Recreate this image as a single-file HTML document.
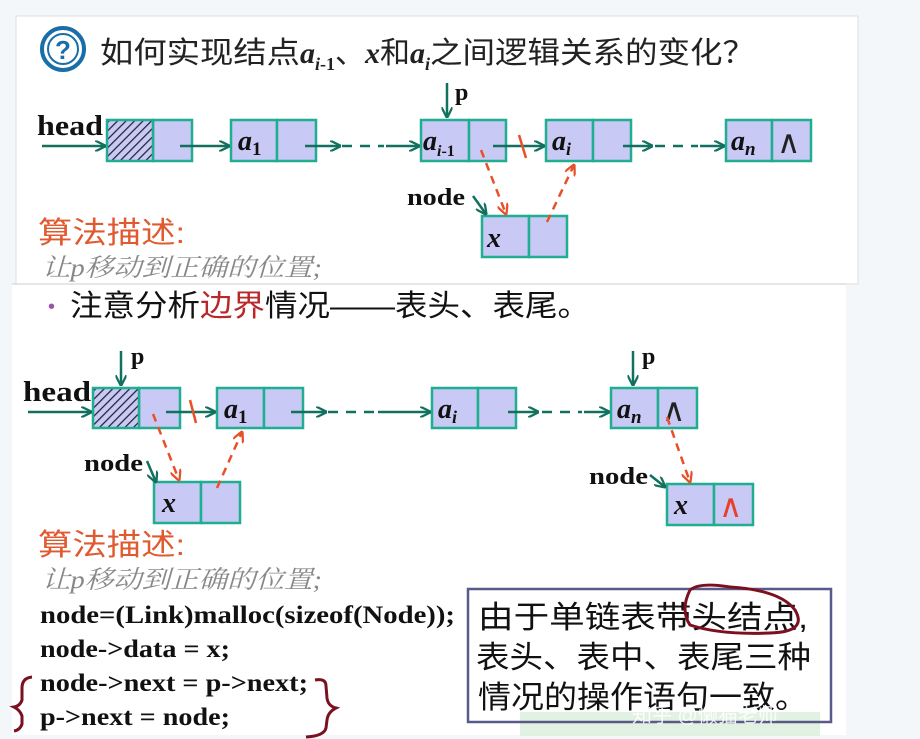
<!DOCTYPE html>
<html><head><meta charset="utf-8"><style>
body{margin:0;background:#f3f7fa;width:920px;height:739px;overflow:hidden}
svg{display:block}
.s{font-family:"Liberation Serif","Noto Serif CJK SC",serif;font-weight:bold}
.c{font-family:"Liberation Sans","Noto Sans CJK SC",sans-serif}
</style></head><body>
<svg width="920" height="739" viewBox="0 0 920 739" xmlns="http://www.w3.org/2000/svg">
<defs>
<marker id="g" viewBox="0 0 10 10" refX="9" refY="5" markerWidth="4.5" markerHeight="4.5" orient="auto"><path d="M0,0 L10,5 L0,10" fill="none" stroke="#12705f" stroke-width="2"/></marker>
<marker id="r" viewBox="0 0 10 10" refX="9" refY="5" markerWidth="4.5" markerHeight="4.5" orient="auto"><path d="M0,0 L10,5 L0,10" fill="none" stroke="#e8502a" stroke-width="2"/></marker>
<pattern id="h" width="6" height="6" patternUnits="userSpaceOnUse" patternTransform="rotate(45)"><rect width="6" height="6" fill="#c9c9f5"/><line x1="0" y1="0" x2="0" y2="6" stroke="#223" stroke-width="2.5"/></pattern>
</defs>
<rect x="16" y="16" width="842" height="268" fill="#fff" stroke="#ddd"/>
<rect x="12" y="284" width="834" height="451" fill="#fff"/>
<line x1="12" y1="284" x2="846" y2="284" stroke="#ccc"/>
<circle cx="63" cy="49" r="21" fill="#fff" stroke="#1a6ea8" stroke-width="4"/>
<circle cx="63" cy="49" r="15" fill="none" stroke="#1a6ea8" stroke-width="2"/>
<text x="63" y="59" text-anchor="middle" class="c" font-size="26" font-weight="bold" fill="#1a6ea8">?</text>
<text x="100" y="63" class="c" font-size="30" fill="#222"><tspan textLength="200" lengthAdjust="spacingAndGlyphs">如何实现结点</tspan><tspan class="s" font-style="italic">a</tspan><tspan class="s" font-size="18" dy="7" font-style="italic">i</tspan><tspan class="s" font-size="18">-1</tspan><tspan dy="-7">、</tspan><tspan class="s" font-style="italic">x</tspan>和<tspan class="s" font-style="italic">a</tspan><tspan class="s" font-size="18" dy="7" font-style="italic">i</tspan><tspan dy="-7" textLength="325" lengthAdjust="spacingAndGlyphs">之间逻辑关系的变化？</tspan></text>

<g stroke="#1fae8f" stroke-width="2.5" fill="#c9c9f5">
<rect x="153" y="120" width="39" height="41"/><rect x="107" y="120" width="46" height="41" fill="url(#h)"/>
<rect x="231" y="120" width="46" height="41"/><rect x="277" y="120" width="39" height="41"/>
<rect x="421" y="120" width="48" height="41"/><rect x="469" y="120" width="37" height="41"/>
<rect x="546" y="120" width="47" height="41"/><rect x="593" y="120" width="38" height="41"/>
<rect x="726" y="120" width="46" height="41"/><rect x="772" y="120" width="39" height="41"/>
<rect x="482" y="216" width="47" height="41"/><rect x="529" y="216" width="38" height="41"/>
<rect x="139" y="388" width="41" height="40"/><rect x="93" y="388" width="46" height="40" fill="url(#h)"/>
<rect x="217" y="388" width="47" height="40"/><rect x="264" y="388" width="39" height="40"/>
<rect x="432" y="388" width="46" height="40"/><rect x="478" y="388" width="38" height="40"/>
<rect x="611" y="388" width="47" height="40"/><rect x="658" y="388" width="39" height="40"/>
<rect x="154" y="482" width="47" height="41"/><rect x="201" y="482" width="39" height="41"/>
<rect x="667" y="484" width="47" height="41"/><rect x="714" y="484" width="39" height="41"/>
</g>
<g class="s" font-size="28" fill="#111">
<text x="37" y="135" textLength="66" lengthAdjust="spacingAndGlyphs">head</text>
<text x="238" y="150" font-style="italic">a<tspan font-size="19" dy="5" font-style="normal">1</tspan></text>
<text x="423" y="150" font-style="italic">a<tspan font-size="16" dy="6">i</tspan><tspan font-size="16" font-style="normal">-1</tspan></text>
<text x="552" y="150" font-style="italic">a<tspan font-size="18" dy="5">i</tspan></text>
<text x="731" y="150" font-style="italic">a<tspan font-size="19" dy="5">n</tspan></text>
<text x="487" y="247" font-style="italic">x</text>
<text x="455" y="100" font-size="24">p</text>
<text x="407" y="205" font-size="24" textLength="58" lengthAdjust="spacingAndGlyphs">node</text>
<text x="23" y="401" textLength="68" lengthAdjust="spacingAndGlyphs">head</text>
<text x="224" y="418" font-style="italic">a<tspan font-size="19" dy="5" font-style="normal">1</tspan></text>
<text x="438" y="418" font-style="italic">a<tspan font-size="18" dy="5">i</tspan></text>
<text x="617" y="418" font-style="italic">a<tspan font-size="19" dy="5">n</tspan></text>
<text x="162" y="512" font-style="italic">x</text>
<text x="674" y="514" font-style="italic">x</text>
<text x="131" y="364" font-size="24">p</text>
<text x="642" y="364" font-size="24">p</text>
<text x="84" y="471" font-size="24" textLength="59" lengthAdjust="spacingAndGlyphs">node</text>
<text x="589" y="484" font-size="24" textLength="59" lengthAdjust="spacingAndGlyphs">node</text>
</g>
<g font-family="Liberation Serif,DejaVu Serif,serif" font-size="32" fill="#222">
<text x="777" y="153">∧</text><text x="662" y="421">∧</text><text x="719" y="517" fill="#e8402a">∧</text>
</g>
<g stroke="#12705f" stroke-width="2.5" fill="none" marker-end="url(#g)">
<line x1="42" y1="146" x2="105" y2="146"/>
<line x1="180" y1="146" x2="229" y2="146"/>
<line x1="305" y1="146" x2="340" y2="146"/>
<line x1="386" y1="146" x2="419" y2="146"/>
<line x1="493" y1="146" x2="544" y2="146"/>
<line x1="623" y1="146" x2="652" y2="146"/>
<line x1="700" y1="146" x2="724" y2="146"/>
<line x1="447" y1="83" x2="447" y2="117"/>
<line x1="473" y1="196" x2="486" y2="214"/>
<line x1="28" y1="412" x2="91" y2="412"/>
<line x1="166" y1="412" x2="215" y2="412"/>
<line x1="291" y1="412" x2="326" y2="412"/>
<line x1="378" y1="412" x2="430" y2="412"/>
<line x1="508" y1="412" x2="538" y2="412"/>
<line x1="584" y1="412" x2="609" y2="412"/>
<line x1="121" y1="351" x2="121" y2="385"/>
<line x1="633" y1="351" x2="633" y2="385"/>
<line x1="147" y1="461" x2="156" y2="482"/>
<line x1="650" y1="475" x2="665" y2="487"/>
</g>
<g stroke="#12705f" stroke-width="2.5" stroke-dasharray="10 8"><line x1="342" y1="146" x2="384" y2="146"/><line x1="655" y1="146" x2="698" y2="146"/><line x1="328" y1="412" x2="376" y2="412"/><line x1="542" y1="412" x2="582" y2="412"/></g>
<g stroke="#e8502a" stroke-width="2.5" fill="none" stroke-dasharray="8 6" marker-end="url(#r)">
<line x1="481" y1="150" x2="506" y2="214"/>
<line x1="547" y1="222" x2="574" y2="165"/>
<line x1="153" y1="414" x2="179" y2="480"/>
<line x1="217" y1="488" x2="242" y2="432"/>
<line x1="667" y1="417" x2="690" y2="482"/>
</g>
<g stroke="#e8502a" stroke-width="2.5"><line x1="519" y1="135" x2="526" y2="158"/><line x1="190" y1="400" x2="196" y2="423"/></g>
<g class="c" font-size="30" fill="#e05a30">
<text x="38" y="243" textLength="147" lengthAdjust="spacingAndGlyphs">算法描述:</text>
<text x="38" y="555" textLength="147" lengthAdjust="spacingAndGlyphs">算法描述:</text>
</g>
<g font-family="Liberation Serif,Noto Serif CJK SC,serif" font-style="italic" font-size="25" fill="#888">
<text x="42" y="276" textLength="280" lengthAdjust="spacingAndGlyphs">让p移动到正确的位置;</text>
<text x="42" y="588" textLength="280" lengthAdjust="spacingAndGlyphs">让p移动到正确的位置;</text>
</g>
<text x="48" y="313" fill="#9a55aa" font-size="20" class="c">•</text>
<text x="70" y="316" class="c" font-size="30" fill="#111" textLength="520" lengthAdjust="spacingAndGlyphs">注意分析<tspan fill="#b8282a">边界</tspan>情况——表头、表尾。</text>
<g class="s" font-size="25" fill="#111">
<text x="40" y="623" textLength="415" lengthAdjust="spacingAndGlyphs">node=(Link)malloc(sizeof(Node));</text>
<text x="40" y="657" textLength="190" lengthAdjust="spacingAndGlyphs">node-&gt;data = x;</text>
<text x="40" y="691" textLength="268" lengthAdjust="spacingAndGlyphs">node-&gt;next = p-&gt;next;</text>
<text x="40" y="725" textLength="190" lengthAdjust="spacingAndGlyphs">p-&gt;next = node;</text>
</g>
<g stroke="#7a1020" stroke-width="3" fill="none">
<path d="M32,677 Q22,678 22,688 L22,700 Q20,706 14,707 Q20,710 22,716 L22,724 Q20,730 14,731"/>
<path d="M315,680 Q326,678 326,686 L327,698 Q328,706 336,708 Q328,712 327,720 L326,728 Q324,736 306,737"/>
</g>
<rect x="520" y="712" width="300" height="24" fill="#d6ecd6" opacity="0.7"/>
<rect x="468" y="589" width="363" height="133" fill="none" stroke="#5a5a8a" stroke-width="2.5"/>
<g class="c" font-size="31" fill="#111">
<text x="478" y="628" textLength="330" lengthAdjust="spacingAndGlyphs">由于单链表带头结点,</text>
<text x="476" y="668" textLength="335" lengthAdjust="spacingAndGlyphs">表头、表中、表尾三种</text>
<text x="478" y="708" textLength="330" lengthAdjust="spacingAndGlyphs">情况的操作语句一致。</text>
</g>
<text x="632" y="722" class="c" font-size="20" fill="#fff" opacity="0.85">知乎 @懒猫老师</text>
<path d="M690,590 Q700,582 730,587 Q780,590 795,610 Q808,632 770,633 Q720,635 690,625 Q680,610 690,590" fill="none" stroke="#7a1020" stroke-width="3"/>
</svg>
</body></html>
